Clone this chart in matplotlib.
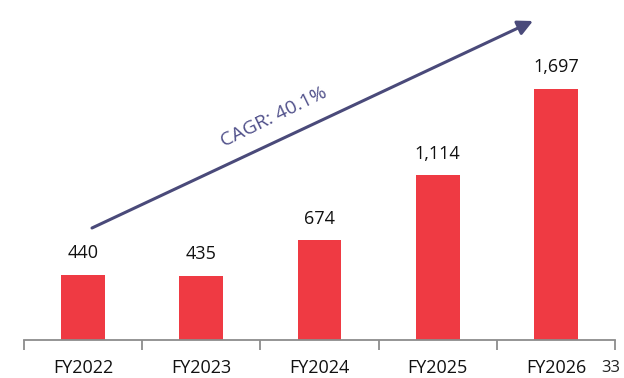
import matplotlib.pyplot as plt
import numpy as np

years = ['FY2022', 'FY2023', 'FY2024', 'FY2025', 'FY2026']
values = [440, 435, 674, 1114, 1697]
cagr_label = 'CAGR: 40.1%'

plt.rcParams['font.family'] = ['Open Sans', 'DejaVu Sans']

fig = plt.figure(figsize=(6.24, 3.78), dpi=100)
ax = fig.add_axes([24 / 624, 38 / 378, 591 / 624, 340 / 378])

x = np.arange(len(years))
ax.bar(x, values, width=0.37, color='#EF3A43', zorder=2)
ax.set_xlim(-0.5, len(years) - 0.5)
ax.set_ylim(0, 2297)

for xi, v in zip(x, values):
    ax.annotate(f'{v:,}', (xi, v), xytext=(0, 9), textcoords='offset points',
                ha='center', va='bottom', fontsize=13, color='#111111')

# category axis with separators between groups
for s in ['top', 'right', 'left']:
    ax.spines[s].set_visible(False)
ax.spines['bottom'].set_color('#8C8C8C')
ax.spines['bottom'].set_linewidth(1.3)
ax.set_yticks([])
ax.set_xticks(np.arange(-0.5, len(years)), minor=False)
ax.set_xticklabels([])
ax.tick_params(axis='x', length=7, width=1.3, color='#8C8C8C')
ax.set_xticks(x, minor=True)
ax.set_xticklabels(years, minor=True, fontsize=13, color='#111111')
ax.tick_params(axis='x', which='minor', length=0, pad=14)

# growth arrow
arrow_color = '#4A4A7A'
ax.annotate('', xy=(533 / 624, 1 - 21 / 378), xytext=(92 / 624, 1 - 228 / 378),
            xycoords='figure fraction', textcoords='figure fraction',
            arrowprops=dict(arrowstyle='-|>,head_length=0.9,head_width=0.45',
                        color=arrow_color, lw=2.2, shrinkA=0, shrinkB=0))
fig.text(274 / 624, 1 - 117 / 378, cagr_label, rotation=26, ha='center', va='center',
         fontsize=14, color='#50508A', rotation_mode='anchor')

# page number
fig.text(620 / 624, 2 / 378, '33', fontsize=12, color='#222222',
         ha='right', va='bottom')

fig.savefig('out.png', dpi=100)
